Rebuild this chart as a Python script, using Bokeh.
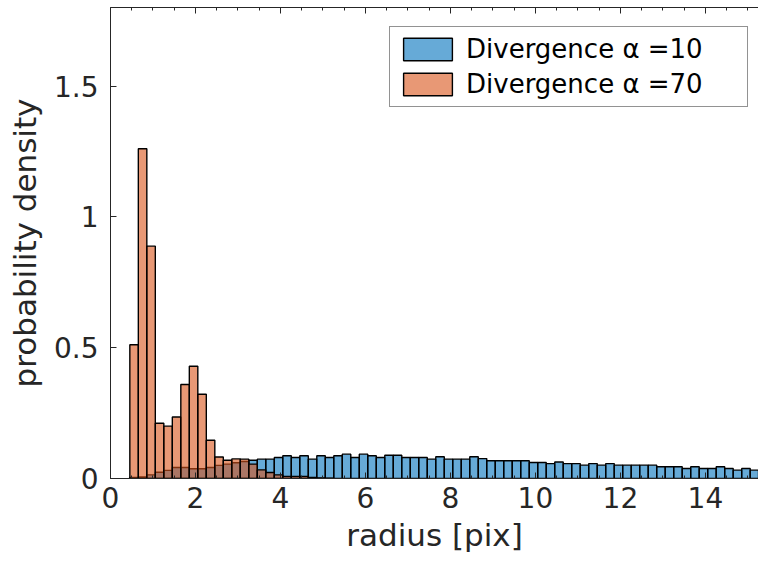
import numpy as np
from bokeh.plotting import figure
from bokeh.models import (Range1d, LinearAxis, SingleIntervalTicker, FixedTicker,
                          CustomJSTickFormatter, Legend, LegendItem)
from bokeh.embed import file_html
from bokeh.resources import INLINE

# ---- data ----
bin_start = 0.455
bin_width = 0.2

blue_density = [0.004, 0.006, 0.014, 0.024, 0.031, 0.042, 0.042, 0.037, 0.037, 0.042,
                0.050, 0.055, 0.060, 0.065, 0.070, 0.074, 0.074, 0.080, 0.087, 0.080,
                0.087, 0.074, 0.087, 0.080, 0.087, 0.093, 0.080, 0.093, 0.087, 0.080,
                0.089, 0.089, 0.080, 0.080, 0.080, 0.074, 0.083, 0.074, 0.074, 0.074,
                0.083, 0.076, 0.068, 0.068, 0.068, 0.068, 0.068, 0.061, 0.061, 0.057,
                0.063, 0.057, 0.057, 0.051, 0.057, 0.051, 0.057, 0.051, 0.051, 0.051,
                0.051, 0.051, 0.045, 0.045, 0.045, 0.038, 0.045, 0.038, 0.038, 0.045,
                0.038, 0.032, 0.038, 0.032]

orange_density = [0.511, 1.26, 0.888, 0.211, 0.200, 0.235, 0.359, 0.429, 0.322, 0.146,
                  0.082, 0.070, 0.075, 0.074, 0.055, 0.033, 0.023, 0.014, 0.008, 0.008,
                  0.008, 0.004, 0.002, 0.001]

series_labels = ["Divergence \u03b1 =10", "Divergence \u03b1 =70"]
x_label = "radius [pix]"
y_label = "probability density"
y_ticks = [0, 0.5, 1, 1.5]

FONT = "DejaVu Sans"
AX = "#262626"

blue_x = bin_start + bin_width * (np.arange(len(blue_density)) + 0.5)
orange_x = bin_start + bin_width * (np.arange(len(orange_density)) + 0.5)

p = figure(width=758, height=565, x_range=Range1d(0, 15.25), y_range=Range1d(0, 1.8),
           output_backend="svg", toolbar_location=None,
           min_border_left=110, min_border_right=0, min_border_top=7, min_border_bottom=87)
p.outline_line_color = None
p.xgrid.visible = False
p.ygrid.visible = False
p.background_fill_color = "white"
p.border_fill_color = "white"

r_blue = p.vbar(x=blue_x, top=blue_density, width=bin_width, bottom=0,
                fill_color="#0072BD", fill_alpha=0.6, line_color="black", line_width=1.4)
r_orange = p.vbar(x=orange_x, top=orange_density, width=bin_width, bottom=0,
                  fill_color="#D95319", fill_alpha=0.6, line_color="black", line_width=1.4)

xa = p.xaxis[0]
xa.ticker = SingleIntervalTicker(interval=2, num_minor_ticks=4)
xa.major_tick_in = 6
xa.major_tick_out = 0
xa.minor_tick_in = 3
xa.minor_tick_out = 0
xa.axis_line_color = AX
xa.major_tick_line_color = AX
xa.minor_tick_line_color = AX
xa.major_label_text_font = FONT
xa.major_label_text_font_size = "28px"
xa.major_label_text_color = AX
xa.major_label_standoff = 8
xa.axis_label = x_label
xa.axis_label_text_font = FONT
xa.axis_label_text_font_size = "31px"
xa.axis_label_text_font_style = "normal"
xa.axis_label_text_color = AX
xa.axis_label_standoff = 6

ya = p.yaxis[0]
ya.ticker = FixedTicker(ticks=y_ticks)
ya.formatter = CustomJSTickFormatter(code="return tick.toString();")
ya.major_tick_in = 6
ya.major_tick_out = 0
ya.minor_tick_line_color = None
ya.axis_line_color = AX
ya.major_tick_line_color = AX
ya.major_label_text_font = FONT
ya.major_label_text_font_size = "28px"
ya.major_label_text_color = AX
ya.major_label_standoff = 12
ya.axis_label = y_label
ya.axis_label_text_font = FONT
ya.axis_label_text_font_size = "31px"
ya.axis_label_text_font_style = "normal"
ya.axis_label_text_color = AX
ya.axis_label_standoff = 8

# top edge of the box (mirrored ticks, no labels)
top = LinearAxis(ticker=SingleIntervalTicker(interval=2, num_minor_ticks=4),
                 major_label_text_font_size="1px", major_label_text_color=None,
                 major_label_standoff=0,
                 major_tick_in=6, major_tick_out=0, minor_tick_in=3, minor_tick_out=0,
                 axis_line_color=AX, major_tick_line_color=AX, minor_tick_line_color=AX)
p.add_layout(top, "above")

legend = Legend(items=[LegendItem(label=series_labels[0], renderers=[r_blue]),
                       LegendItem(label=series_labels[1], renderers=[r_orange])],
                location=(279, 371), margin=0, padding=7, spacing=5,
                glyph_width=61, glyph_height=28, label_height=28, label_standoff=8,
                label_width=274,
                label_text_font=FONT, label_text_font_size="26px", label_text_color="black",
                border_line_color=AX, border_line_width=1, background_fill_alpha=1.0)
p.add_layout(legend)

open("out.html", "w").write(file_html(p, INLINE))
